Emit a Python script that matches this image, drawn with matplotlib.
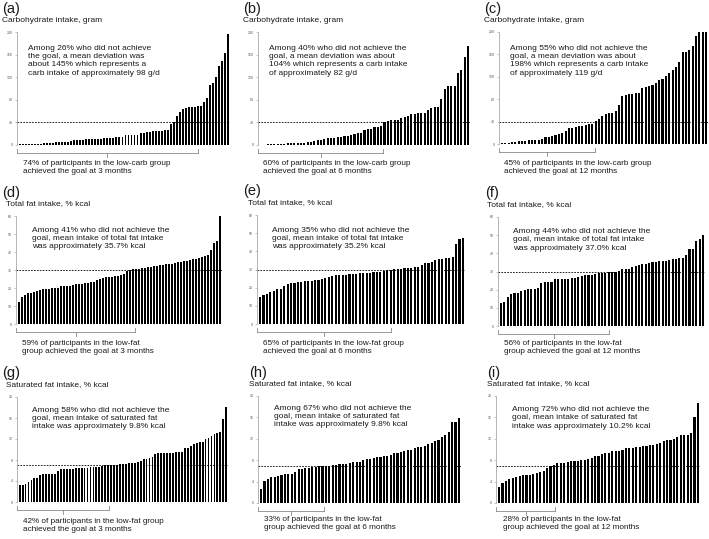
import matplotlib
matplotlib.use('Agg')
import matplotlib.pyplot as plt
from matplotlib.lines import Line2D

plt.rcParams['font.family'] = ['Liberation Sans', 'DejaVu Sans']

W, H = 709, 539

# ---- data (sorted intake of each participant) ----
carb_3m = [1, 1, 1.5, 1.5, 2, 2, 2.5, 2.5, 3, 3,
           3.5, 4, 4.5, 5, 5, 5.5, 6, 7, 8, 8.5,
           9, 9.5, 10, 10, 10.5, 11, 11, 11.5, 12, 12.5,
           13, 13, 13.5, 14, 15, 17, 17.5, 18, 18, 18.5,
           21, 22, 23, 23.5, 24, 24, 25, 25.5, 26, 27,
           37, 40, 52, 58, 63, 66, 67, 67.5, 68, 68.5,
           69, 76, 84, 106, 110, 121, 140, 148, 163, 196]
carb_6m = [0.5, 0.5, 1, 1, 1.5, 1.5, 2, 2.5, 3, 3,
           3.5, 3.5, 4, 4, 4.5, 5, 6.5, 8, 9.5, 11,
           12, 12.5, 13, 13.5, 14.5, 15.5, 16.5, 18, 19, 21,
           22, 26, 28, 29, 31, 32, 33, 41, 43, 43.5,
           44, 45, 47, 50, 50.5, 54, 55, 56, 57, 57.5,
           62, 66, 67, 67.5, 81, 100, 104, 104.5, 105, 128,
           133, 155, 175]
carb_12m = [1, 2, 2.5, 3, 4, 5, 5.5, 6, 6.5, 7,
            7.5, 8, 9, 12, 13, 14, 16, 18, 19, 24,
            28, 29, 30, 32, 33, 34, 35, 36, 41, 45,
            50, 53, 55, 56, 59, 69, 86, 87, 89, 90,
            90.5, 91, 100, 102, 104, 106, 109, 114, 116, 122,
            126, 132, 137, 147, 164, 165, 168, 175, 193, 200,
            200, 200]
fat_3m = [12.5, 15, 16, 17, 17.5, 17.8, 18.5, 19, 19.2, 19.5,
          19.7, 20, 20, 20.2, 21, 21, 21, 21.2, 21.5, 22,
          22.3, 22.5, 22.8, 23, 23.2, 23.5, 24.5, 25, 25.5, 26,
          26, 26.2, 26.5, 26.7, 27, 28, 29.5, 30, 30.3, 30.5,
          30.7, 31, 31.2, 31.5, 31.8, 32, 32.3, 32.7, 33, 33.2,
          33.4, 33.6, 34, 34.2, 34.5, 34.8, 35.2, 35.5, 36, 36.3,
          36.8, 37.5, 38, 38.5, 41, 45, 46, 60]
fat_6m = [15, 16, 16.6, 17.5, 18.3, 19, 19.3, 21, 22, 22.5,
          22.8, 23, 23.2, 23.5, 23.6, 23.8, 24, 24.2, 24.7, 25.5,
          26, 26.5, 26.8, 27, 27, 27.2, 27.3, 27.5, 27.5, 27.8,
          28, 28, 28.2, 28.4, 28.6, 28.8, 29.4, 29.8, 30, 30.2,
          30.3, 30.5, 30.6, 30.8, 31, 31.2, 31.5, 32.5, 33.5, 33.8,
          34.2, 35.5, 35.8, 36, 36.2, 36.5, 37, 44, 47, 47.5]
fat_12m = [12.7, 13.2, 16, 17.8, 18.1, 18.3, 19, 19.6, 20.3, 20.5,
           20.5, 20.7, 23.8, 24, 24.2, 24.4, 26, 26, 26, 26,
           26.1, 26.3, 26.5, 26.8, 27.5, 27.8, 27.9, 28, 28.8, 29.2,
           29.3, 29.4, 29.7, 29.8, 30, 30.5, 31.2, 31.3, 31.5, 32.5,
           33, 33.5, 34, 34.2, 34.7, 35.2, 35.5, 35.6, 35.6, 35.8,
           36.3, 36.8, 37, 37.2, 37.5, 39.3, 42.3, 42.6, 47, 48,
           50.3]
sat_3m = [3.3, 3.3, 3.4, 3.9, 4.2, 4.5, 4.6, 5.2, 5.3, 5.3,
          5.3, 5.4, 5.4, 5.9, 6.2, 6.2, 6.3, 6.3, 6.3, 6.4,
          6.5, 6.5, 6.5, 6.5, 6.6, 6.6, 6.6, 6.6, 6.8, 7,
          7, 7.05, 7.1, 7.1, 7.2, 7.3, 7.3, 7.4, 7.4, 7.5,
          7.7, 7.8, 8.1, 8.2, 8.3, 8.5, 9.2, 9.3, 9.3, 9.3,
          9.3, 9.3, 9.4, 9.5, 9.6, 9.6, 10.2, 10.3, 10.7, 11,
          11.3, 11.4, 11.5, 12, 12.2, 12.5, 12.9, 13.2, 13.4, 15.9,
          18.1]
sat_6m = [2.7, 4.1, 4.4, 4.9, 4.9, 5, 5.3, 5.4, 5.5, 5.5,
          5.8, 6.3, 6.4, 6.5, 6.6, 6.8, 6.8, 6.9, 6.9, 7,
          7, 7.1, 7.1, 7.2, 7.2, 7.3, 7.5, 7.6, 7.6, 7.7,
          8, 8.3, 8.3, 8.4, 8.6, 8.6, 8.7, 8.7, 8.9, 9.3,
          9.4, 9.5, 9.8, 9.9, 10, 10.3, 10.4, 10.5, 10.6, 11.1,
          11.3, 11.6, 11.8, 12.4, 12.8, 13.2, 15.2, 15.2, 15.8]
sat_12m = [3, 3.7, 4.2, 4.5, 4.6, 4.9, 5, 5.2, 5.3, 5.3,
           5.4, 5.6, 5.8, 6, 6.5, 7, 7.1, 7.4, 7.4, 7.5,
           7.7, 7.8, 7.8, 7.9, 8.1, 8.1, 8.2, 8.5, 8.7, 8.8,
           9.2, 9.3, 9.3, 9.7, 9.8, 9.8, 9.9, 10.2, 10.3, 10.3,
           10.4, 10.4, 10.6, 10.7, 10.8, 10.9, 11, 11.2, 11.5, 11.8,
           11.8, 11.9, 12.4, 12.7, 12.7, 12.8, 13, 16, 18.6]

series = [carb_3m, carb_6m, carb_12m, fat_3m, fat_6m, fat_12m, sat_3m, sat_6m, sat_12m]
letters = ['(a)', '(b)', '(c)', '(d)', '(e)', '(f)', '(g)', '(h)', '(i)']
titles = ['Carbohydrate intake, gram'] * 3 + ['Total fat intake, % kcal'] * 3 + ['Saturated fat intake, % kcal'] * 3
ymax = [200, 200, 200, 60, 60, 60, 20, 20, 20]
ystep = [40, 40, 40, 10, 10, 10, 4, 4, 4]
goal = [40, 40, 40, 30, 30, 30, 7, 7, 7]
notes = [
    'Among 26% who did not achieve\nthe goal, a mean deviation was\nabout 145% which represents a\ncarb intake of approximately 98 g/d',
    'Among 40% who did not achieve the\ngoal, a mean deviation was about\n104% which represents a carb intake\nof approximately 82 g/d',
    'Among 55% who did not achieve the\ngoal, a mean deviation was about\n198% which represents a carb intake\nof approximately 119 g/d',
    'Among 41% who did not achieve the\ngoal, mean intake of total fat intake\nwas approximately 35.7% kcal',
    'Among 35% who did not achieve the\ngoal, mean intake of total fat intake\nwas approximately 35.2% kcal',
    'Among 44% who did not achieve the\ngoal, mean intake of total fat intake\nwas approximately 37.0% kcal',
    'Among 58% who did not achieve the\ngoal, mean intake of saturated fat\nintake was approximately 9.8% kcal',
    'Among 67% who did not achieve the\ngoal, mean intake of saturated fat\nintake was approximately 9.8% kcal',
    'Among 72% who did not achieve the\ngoal, mean intake of saturated fat\nintake was approximately 10.2% kcal',
]
achieved = [
    '74% of participants in the low-carb group\nachieved the goal at 3 months',
    '60% of participants in the low-carb group\nachieved the goal at 6 months',
    '45% of participants in the low-carb group\nachieved the goal at 12 months',
    '59% of participants in the low-fat\ngroup achieved the goal at 3 months',
    '65% of participants in the low-fat group\nachieved the goal at 6 months',
    '56% of participants in the low-fat\ngroup achieved the goal at 12 months',
    '42% of participants in the low-fat group\nachieved the goal at 3 months',
    '33% of participants in the low-fat\ngroup achieved the goal at 6 months',
    '28% of participants in the low-fat\ngroup achieved the goal at 12 months',
]

# ---- layout in pixels ----
boxes = [(17, 230, 32, 145), (258, 470, 32, 145), (499, 708, 32, 144),
         (16, 222, 216, 324), (257, 465, 215, 324), (498, 705, 217, 326),
         (17, 228, 397, 502), (258, 461, 396, 503), (496, 700, 396, 503)]
note_xy = [(28, 50), (269, 50), (510, 50), (32, 232), (272, 232), (513, 233),
           (32, 412), (274, 410), (512, 411)]
brk_end = [198, 383, 595, 135, 391, 609, 109, 324, 555]
low_x = [23, 263, 504, 22, 263, 504, 23, 264, 503]
low_y = [165, 165, 165, 345, 345, 345, 523, 521, 521]
lab_x = [2, 243, 484, 2, 243, 485, 2, 249, 487]
tit_x = [2, 243, 484, 6, 248, 487, 6, 249, 487]

fig = plt.figure(figsize=(W / 100, H / 100), dpi=100)

def fx(x):
    return x / W

def fy(y):
    return 1 - y / H

txt = '#1a1a1a'
for k in range(9):
    l, r, t, b = boxes[k]
    ax = fig.add_axes([fx(l), fy(b), (r - l) / W, (b - t) / H])
    vals = series[k]
    n = len(vals)
    ax.bar(range(n), vals, width=0.62, color='black', linewidth=0)
    ax.set_xlim(-0.9, n - 0.4)
    ax.set_ylim(0, ymax[k])
    ax.axhline(goal[k], color='black', lw=0.6, ls=(0, (2, 1.5)))
    for s in ['top', 'right', 'bottom']:
        ax.spines[s].set_visible(False)
    ax.spines['left'].set_color('#999999')
    ax.spines['left'].set_linewidth(0.5)
    ax.set_xticks([])
    ax.set_yticks(range(0, ymax[k] + 1, ystep[k]))
    ax.tick_params(axis='y', length=1.5, width=0.4, color='#999999', labelsize=2.5,
                   labelcolor='#555555', pad=1.5)
    ax.patch.set_visible(False)

    fig.text(fx(lab_x[k]), fy(t - 23.5), letters[k], fontsize=10.5, color=txt, va='center', ha='left')
    fig.text(fx(tit_x[k]), fy(t - 12), titles[k], fontsize=6.0, color=txt, va='center', ha='left')
    nx, ny = note_xy[k]
    fig.text(fx(nx), fy(ny - 5), notes[k], fontsize=6.0, color=txt, va='top', ha='left', linespacing=1.25)
    fig.text(fx(low_x[k]), fy(low_y[k] - 5), achieved[k], fontsize=5.9, color=txt, va='top',
             ha='left', linespacing=1.25)

    # bracket under the achieving group
    by = b + 8
    e = brk_end[k]
    c = (l + e) / 2
    col = '#888888'
    for xs, ys in [([l, e], [by, by]), ([l, l], [by - 4, by]), ([e, e], [by - 4, by]),
                   ([c, c], [by, by + 4])]:
        fig.add_artist(Line2D([fx(v) for v in xs], [fy(v) for v in ys], color=col, lw=0.6))

fig.savefig('out.png', dpi=100)
